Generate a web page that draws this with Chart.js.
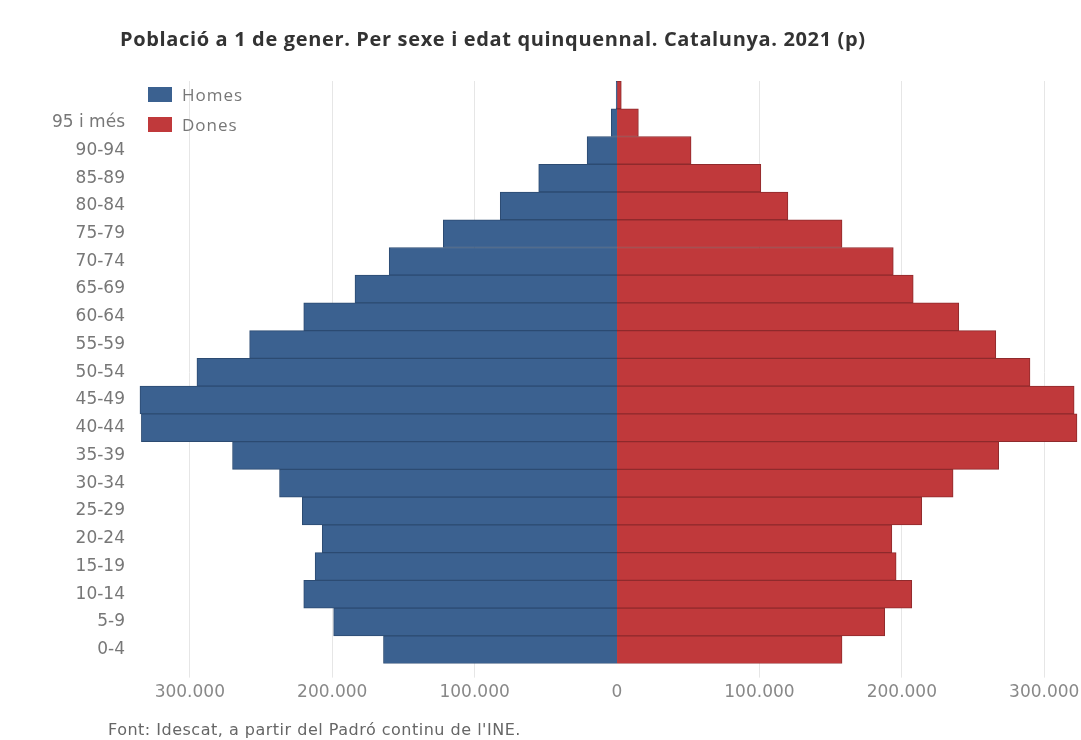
<!DOCTYPE html>
<html lang="ca">
<head>
<meta charset="utf-8">
<title>Població a 1 de gener. Catalunya. 2021</title>
<script src="https://cdn.jsdelivr.net/npm/chart.js@4.4.1/dist/chart.umd.min.js"></script>
<style>
    html, body { margin: 0; padding: 0; background: #fff; }
    #wrap { position: relative; width: 1081px; height: 740px; overflow: hidden; }
    #pyramid { position: absolute; left: 0; top: 0; }
    .title {
        position: absolute; left: 120px; top: 25px;
        font: bold 20px "Open Sans", sans-serif; letter-spacing: 0.65px; color: #333;
    }
    .legend { position: absolute; left: 148px; top: 84px; font: 17px "Open Sans", sans-serif; letter-spacing: 1px; color: #777; }
    .legend div { height: 30px; line-height: 22px; }
    .legend span { display: inline-block; width: 24px; height: 15px; vertical-align: -1px; margin-right: 10px; }
    .source {
        position: absolute; left: 108px; top: 720px;
        font: 16px "DejaVu Sans", sans-serif; letter-spacing: 0.5px; color: #666;
    }
</style>
</head>
<body>
<div id="wrap">
    <canvas id="pyramid" width="1081" height="740"></canvas>
    <div class="title">Població a 1 de gener. Per sexe i edat quinquennal. Catalunya. 2021 (p)</div>
    <div class="legend">
        <div><span style="background:#3b6190"></span>Homes</div>
        <div><span style="background:#c0393b"></span>Dones</div>
    </div>
    <div class="source">Font: Idescat, a partir del Padró continu de l'INE.</div>
</div>

<script>
// age groups, top row first (top row has no label on the reference)
const ageGroups = ['', '95 i més', '90-94', '85-89', '80-84', '75-79', '70-74', '65-69',
    '60-64', '55-59', '50-54', '45-49', '40-44', '35-39', '30-34', '25-29',
    '20-24', '15-19', '10-14', '5-9', '0-4'];

const homes = [600, 4000, 21000, 55000, 82000, 122000, 160000, 184000,
    220000, 258000, 295000, 335000, 334000, 270000, 237000, 221000,
    207000, 212000, 220000, 199000, 164000];

const dones = [3000, 15000, 52000, 101000, 120000, 158000, 194000, 208000,
    240000, 266000, 290000, 321000, 323000, 268000, 236000, 214000,
    193000, 196000, 207000, 188000, 158000];

const xTicks = [-300000, -200000, -100000, 0, 100000, 200000, 300000];

const fmt = v => Math.abs(v).toString().replace(/\B(?=(\d{3})+(?!\d))/g, '.');

new Chart(document.getElementById('pyramid'), {
    type: 'bar',
    data: {
        labels: ageGroups,
        datasets: [
            {
                label: 'Homes',
                data: homes.map(v => -v),
                backgroundColor: '#3b6190',
                borderColor: '#2c4b72',
                borderWidth: 1
            },
            {
                label: 'Dones',
                data: dones,
                backgroundColor: '#c0393b',
                borderColor: '#8f2a2c',
                borderWidth: 1
            }
        ]
    },
    options: {
        indexAxis: 'y',
        responsive: false,
        animation: false,
        layout: { padding: { top: 81, bottom: 32, left: 0, right: 0 } },
        datasets: { bar: { barPercentage: 1, categoryPercentage: 1 } },
        plugins: {
            legend: { display: false },
            tooltip: { enabled: false }
        },
        scales: {
            x: {
                stacked: true,
                min: -342000,
                max: 325818,
                afterBuildTicks: scale => { scale.ticks = xTicks.map(v => ({ value: v })); },
                // let the plot run to the right edge like the reference
                afterFit: scale => { scale.paddingLeft = 0; scale.paddingRight = 0; },
                grid: {
                    color: '#e6e6e6',
                    // no zero gridline, so the two halves meet without a gap
                    lineWidth: ctx => (ctx.tick && ctx.tick.value === 0) ? 0 : 1,
                    tickLength: 14
                },
                border: { display: false },
                ticks: {
                    color: '#888',
                    font: { family: 'DejaVu Sans', size: 17 },
                    padding: 5,
                    maxRotation: 0,
                    callback: v => fmt(v)
                }
            },
            y: {
                stacked: true,
                grid: { display: false, drawTicks: false },
                border: { display: false },
                afterFit: scale => { scale.width = 130; },
                ticks: {
                    color: '#777',
                    font: { family: 'DejaVu Sans', size: 17 },
                    padding: 5,
                    autoSkip: false
                }
            }
        }
    }
});
</script>
</body>
</html>
